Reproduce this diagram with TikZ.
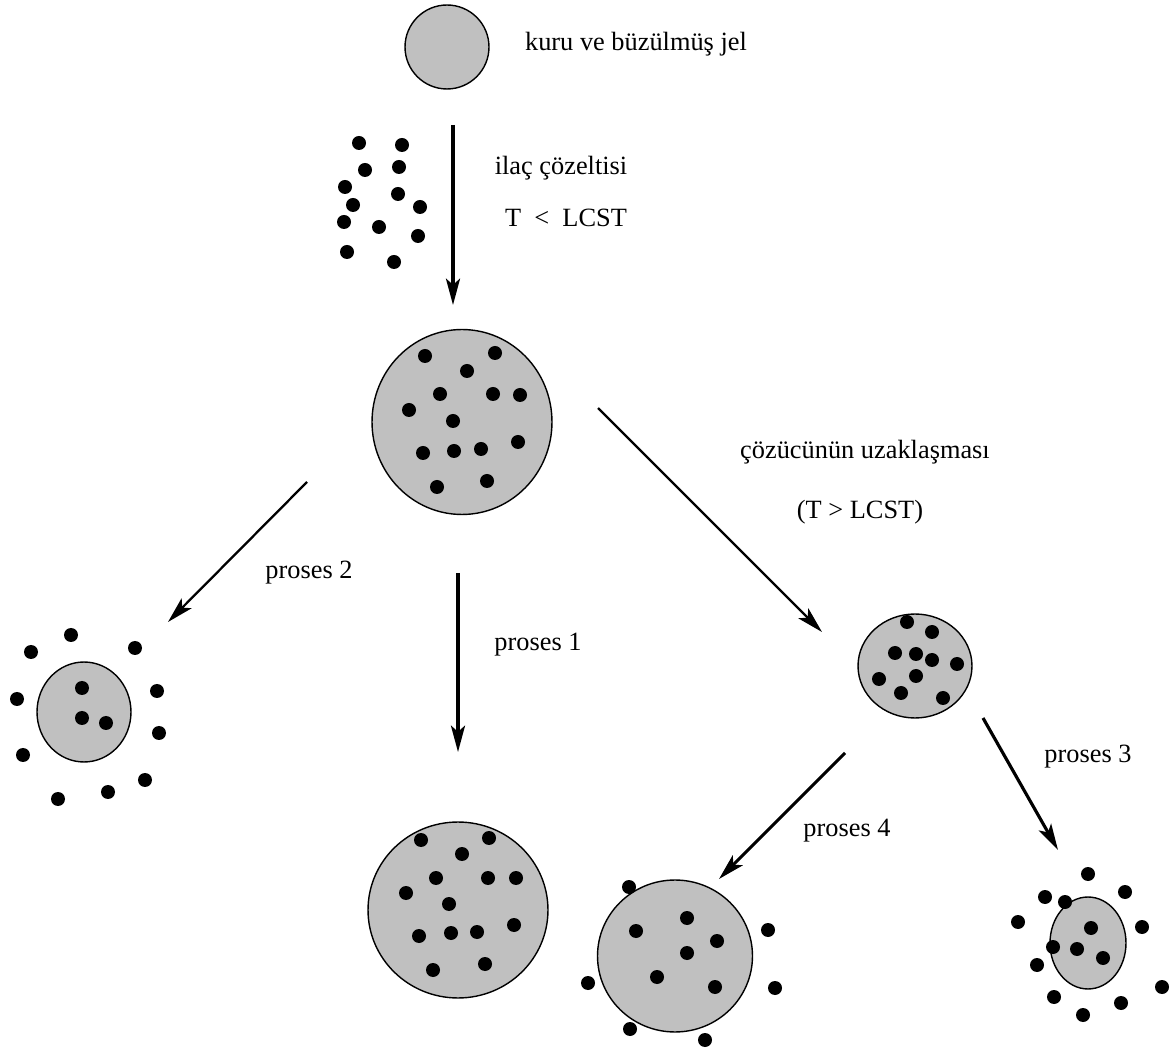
\documentclass[tikz,border=0pt]{standalone}
\usepackage{fontspec}
\setmainfont{Liberation Serif}
\usepackage{tikz}
\usetikzlibrary{
    arrows.meta,
    shapes.geometric
}

\begin{document}
\begin{tikzpicture}[x=0.02cm, y=-0.02cm,
    gel/.style={draw, ellipse, fill=gelgray, line width=0.8pt, inner sep=0pt},
    lbl/.style={font=\fontsize{15}{18}\selectfont, inner sep=0pt},
    flow/.style={-{Stealth[length=15pt, width=8pt, inset=3.5pt]}, line width=1.3pt},
    bold flow/.style={flow, line width=1.8pt}]
            \definecolor{gelgray}{RGB}{192,192,192}
            \useasboundingbox (0,0) rectangle (1170,1053);

            % gels
            \node[gel, minimum width=1.68cm, minimum height=1.68cm] (dry) at (447,47) {};
            \node[gel, minimum width=3.6cm, minimum height=3.7cm] (swollen) at (462,422) {};
            \node[gel, minimum width=3.6cm, minimum height=3.52cm] (gel1) at (458,910) {};
            \node[gel, minimum width=1.88cm, minimum height=2.0cm] (gel2) at (84,712) {};
            \node[gel, minimum width=2.28cm, minimum height=2.08cm] (shrunk) at (915,666) {};
            \node[gel, minimum width=3.1cm, minimum height=3.04cm] (gel4) at (675,956) {};
            \node[gel, minimum width=1.52cm, minimum height=1.84cm] (gel3) at (1088,943) {};

            % drug molecules
            \foreach \p in {(359,143),(402,145),(365,170),(399,167),(345,187),(398,194),(353,205),
                            (420,207),(344,222),(379,227),(418,236),(347,252),(394,262)}
                \fill \p circle (7);
            \foreach \p in {(425,356),(495,353),(467,371),(440,394),(493,394),(520,395),(409,410),
                            (453,421),(423,453),(454,451),(481,449),(518,442),(437,487),(487,481)}
                \fill \p circle (7);
            \foreach \p in {(421,840),(489,838),(462,854),(436,878),(488,878),(516,878),(406,893),
                            (449,904),(419,936),(451,933),(477,932),(514,925),(433,970),(485,964)}
                \fill \p circle (7);
            \foreach \p in {(82,688),(82,718),(106,723),(71,635),(31,652),(135,648),(17,699),
                            (157,691),(159,733),(23,755),(145,780),(108,792),(58,799)}
                \fill \p circle (7);
            \foreach \p in {(907,622),(932,632),(895,653),(916,654),(932,660),(957,664),(879,679),
                            (916,676),(901,693),(943,698)}
                \fill \p circle (7);
            \foreach \p in {(636,931),(687,918),(717,941),(687,953),(657,977),(715,987),(629,887),
                            (768,930),(588,983),(775,988),(630,1029),(705,1040)}
                \fill \p circle (7);
            \foreach \p in {(1091,928),(1077,949),(1103,958),(1053,947),(1088,874),(1045,897),
                            (1065,902),(1125,892),(1018,922),(1142,927),(1037,965),(1054,997),
                            (1162,987),(1121,1003),(1083,1015)}
                \fill \p circle (7);

            % arrow ends
            \coordinate (loadS) at (453,125);
            \coordinate (loadE) at (453,305);
            \coordinate (p2S) at (307,482);
            \coordinate (p2E) at (168,622);
            \coordinate (p1S) at (458,573);
            \coordinate (p1E) at (458,752);
            \coordinate (dryS) at (598,408);
            \coordinate (dryE) at (822,632);
            \coordinate (p3S) at (983,718);
            \coordinate (p3E) at (1058,850);
            \coordinate (p4S) at (845,753);
            \coordinate (p4E) at (719,879);

            \draw[bold flow] (loadS)--(loadE);
            \draw[flow] (p2S)--(p2E);
            \draw[bold flow] (p1S)--(p1E);
            \draw[flow] (dryS)--(dryE);
            \draw[bold flow] (p3S)--(p3E);
            \draw[bold flow] (p4S)--(p4E);

            % labels
            \node[lbl] (dryTxt) at (636,44) {kuru ve büzülmüş jel};
            \node[lbl] (drugTxt) at (561,168) {ilaç çözeltisi};
            \node[lbl] (lowT) at (566,218) {T\ \ <\ \ LCST};
            \node[lbl] (solvTxt) at (865,452) {çözücünün uzaklaşması};
            \node[lbl] (highT) at (860,512) {(T > LCST)};
            \node[lbl] (p2Txt) at (309,573) {proses 2};
            \node[lbl] (p1Txt) at (538,645) {proses 1};
            \node[lbl] (p3Txt) at (1088,757) {proses 3};
            \node[lbl] (p4Txt) at (847,831) {proses 4};
            \end{tikzpicture}
\end{document}
